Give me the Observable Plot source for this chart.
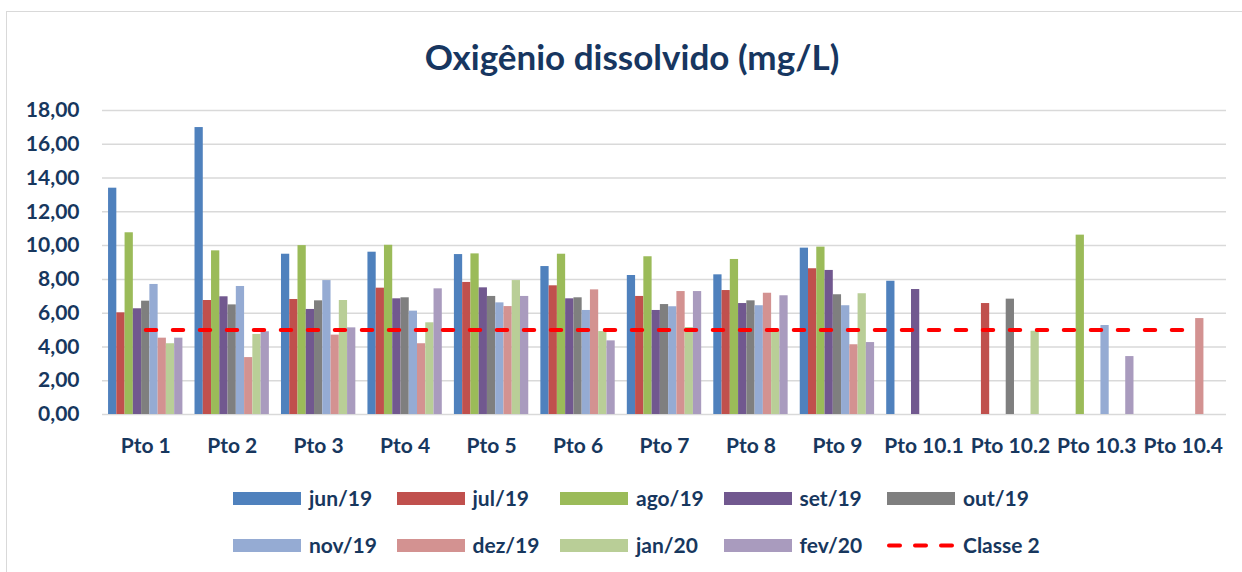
<!DOCTYPE html>
<html>
<head>
<meta charset="utf-8">
<script src="https://cdn.jsdelivr.net/npm/d3@7"></script>
<script src="https://cdn.jsdelivr.net/npm/@observablehq/plot@0.6"></script>
<style>
  html, body { margin: 0; padding: 0; background: #fff; overflow: hidden; }
  #wrap { position: relative; width: 1242px; height: 572px; overflow: hidden; font-family: Lato, "Open Sans", sans-serif; font-weight: bold; color: #17375e; }
  #border { position: absolute; left: 6px; top: 11px; width: 1400px; height: 700px; border: 1.5px solid #d9d9d9; box-sizing: border-box; }
  #title { position: absolute; left: 22px; top: 34px; width: 1220px; text-align: center; font-size: 35px; line-height: 44px; color: #173660; }
  #chart { position: absolute; left: 0; top: 0; }
  .leg { position: absolute; display: flex; align-items: center; font-size: 21px; line-height: 24px; white-space: nowrap; }
  .sw { width: 68px; height: 13px; margin-right: 8px; }
</style>
</head>
<body>
<div id="wrap">
  <div id="border"></div>
  <div id="chart"></div>
  <div id="title">Oxigênio dissolvido (mg/L)</div>
  <div id="legend"></div>
</div>
<script>
// ---- data ----
const points = ["Pto 1", "Pto 2", "Pto 3", "Pto 4", "Pto 5", "Pto 6", "Pto 7", "Pto 8", "Pto 9",
                "Pto 10.1", "Pto 10.2", "Pto 10.3", "Pto 10.4"];
const months = ["jun/19", "jul/19", "ago/19", "set/19", "out/19", "nov/19", "dez/19", "jan/20", "fev/20"];
const colors = ["#4f81bd", "#c0504d", "#9bbb59", "#71588f", "#7f7f7f", "#95abd3", "#d39291", "#b9ce97", "#a99bbe"];

const jun19 = [13.40, 16.99, 9.49, 9.61, 9.47, 8.76, 8.23, 8.27, 9.85, 7.89, null, null, null];
const jul19 = [6.02, 6.75, 6.81, 7.48, 7.82, 7.62, 6.99, 7.34, 8.63, null, 6.57, null, null];
const ago19 = [10.76, 9.69, 10.00, 10.02, 9.51, 9.49, 9.34, 9.18, 9.91, null, null, 10.62, null];
const set19 = [6.26, 6.97, 6.22, 6.85, 7.50, 6.85, 6.16, 6.57, 8.53, 7.40, null, null, null];
const out19 = [6.71, 6.49, 6.73, 6.91, 6.99, 6.91, 6.51, 6.73, 7.09, null, 6.83, null, null];
const nov19 = [7.70, 7.58, 7.93, 6.12, 6.61, 6.16, 6.38, 6.44, 6.44, null, null, 5.27, null];
const dez19 = [4.52, 3.37, 4.70, 4.19, 6.39, 7.38, 7.28, 7.18, 4.13, null, null, null, 5.68];
const jan20 = [4.19, 4.74, 6.75, 5.43, 7.93, 4.91, 5.15, 4.96, 7.15, null, 4.93, null, null];
const fev20 = [4.52, 4.90, 5.13, 7.44, 6.99, 4.36, 7.28, 7.03, 4.26, null, null, 3.43, null];
const series = [jun19, jul19, ago19, set19, out19, nov19, dez19, jan20, fev20];

const classe2 = 5;
const classeLabel = "Classe 2";
const yTicks = [0, 2, 4, 6, 8, 10, 12, 14, 16, 18];

// ---- layout of clustered bars (Excel-like: 9 bars per category, gap ~14%) ----
const groupFrac = 0.86;
const bw = groupFrac / months.length;
const bars = [];
series.forEach((vals, j) => {
  vals.forEach((v, i) => {
    if (v == null) return;
    const x1 = i + 0.5 - groupFrac / 2 + j * bw;
    bars.push({point: points[i], month: months[j], x1, x2: x1 + bw, v});
  });
});
const classeLine = points.map((p, i) => ({x: i + 0.5, y: classe2}));

const fmt = d => d.toFixed(2).replace(".", ",");

const chart = Plot.plot({
  width: 1242,
  height: 470,
  marginTop: 110,
  marginBottom: 56,
  marginLeft: 102,
  marginRight: 16,
  style: {fontFamily: "Lato, 'Open Sans', sans-serif", fontSize: "21px", fontWeight: "bold", color: "#17375e", background: "transparent", overflow: "visible"},
  x: {domain: [0, points.length], ticks: points.map((_, i) => i + 0.5), tickFormat: d => points[Math.floor(d)], tickSize: 0, tickPadding: 24, label: null},
  y: {domain: [0, 18], ticks: yTicks, tickFormat: fmt, tickSize: 0, tickPadding: 23, label: null},
  color: {domain: months, range: colors},
  marks: [
    Plot.ruleY(yTicks, {stroke: "#d9d9d9", strokeWidth: 1.5}),
    Plot.rect(bars, {x1: "x1", x2: "x2", y1: 0, y2: "v", fill: "month"}),
    Plot.line(classeLine, {x: "x", y: "y", stroke: "#ff0000", strokeWidth: 4, strokeDasharray: "10.5,16.5", strokeLinecap: "round"})
  ]
});
document.getElementById("chart").appendChild(chart);

// ---- legend ----
const legend = document.getElementById("legend");
const items = months.map((m, j) => ({label: m, color: colors[j], type: "bar"}));
items.push({label: classeLabel, color: "#ff0000", type: "line"});
items.forEach((it, k) => {
  const col = k % 5, row = Math.floor(k / 5);
  const el = document.createElement("div");
  el.className = "leg";
  el.style.left = (233 + col * 163.5) + "px";
  el.style.top = (486 + row * 47) + "px";
  if (it.type === "bar") {
    el.innerHTML = `<div class="sw" style="background:${it.color}"></div><span>${it.label}</span>`;
  } else {
    el.innerHTML = `<svg width="68" height="13" style="margin-right:8px"><line x1="2" x2="66" y1="6.5" y2="6.5" stroke="${it.color}" stroke-width="4" stroke-linecap="round" stroke-dasharray="11,15"/></svg><span>${it.label}</span>`;
  }
  legend.appendChild(el);
});
</script>
</body>
</html>
